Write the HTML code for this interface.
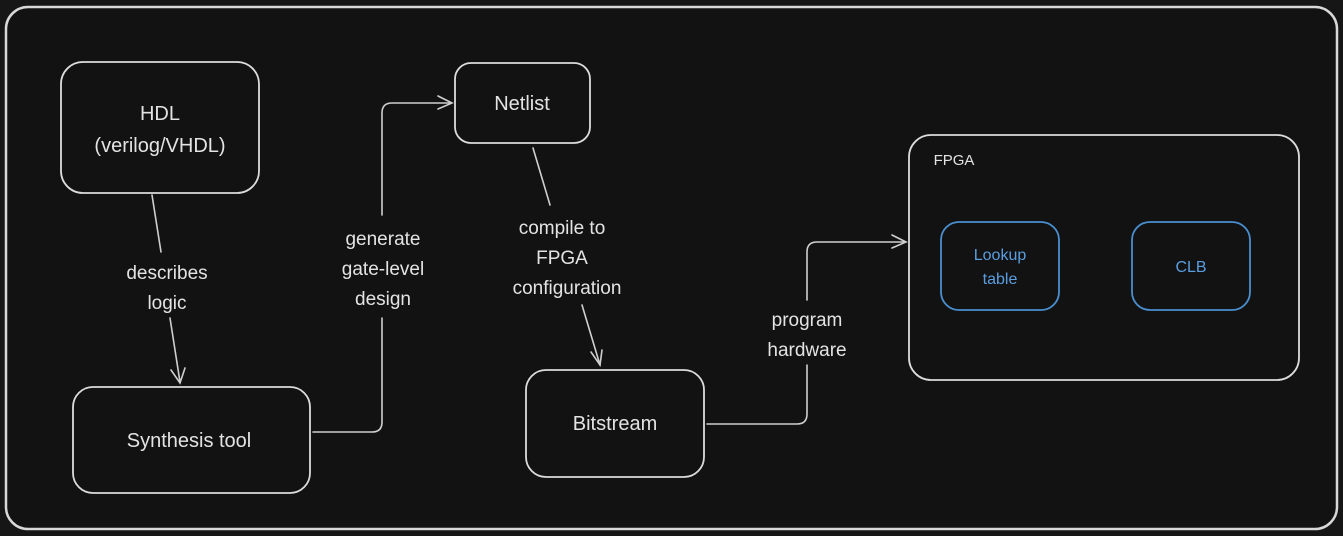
<!DOCTYPE html>
<html><head><style>
html,body{margin:0;padding:0;background:#161616;}
svg{display:block}
text{font-family:"Liberation Sans",sans-serif;fill:#e3e3e3;text-anchor:middle;}
</style></head><body>
<svg width="1343" height="536" viewBox="0 0 1343 536" xmlns="http://www.w3.org/2000/svg">
<rect x="0" y="0" width="1343" height="536" fill="#161616"/>
<rect x="6" y="7" width="1331" height="522" rx="22" fill="#121212" stroke="#d8d8d8" stroke-width="2.5"/>
<g fill="none" stroke="#dcdcdc" stroke-width="1.8">
<rect x="61" y="62" width="198" height="131" rx="22"/>
<rect x="73" y="387" width="237" height="106" rx="20"/>
<rect x="455" y="63" width="135" height="80" rx="16"/>
<rect x="526" y="370" width="178" height="107" rx="20"/>
<rect x="909" y="135" width="390" height="245" rx="22"/>
</g>
<g fill="none" stroke="#4a8fd0" stroke-width="1.8">
<rect x="941" y="222" width="118" height="88" rx="18"/>
<rect x="1132" y="222" width="118" height="88" rx="18"/>
</g>
<g fill="none" stroke="#cfcfcf" stroke-width="1.6" stroke-linecap="round">
<path d="M152 195 L161 252"/><path d="M170 318 L180 382"/>
<path d="M171 370 L180 383 L185 368"/>
<path d="M313 432 L372 432 Q382 432 382 422 L382 318"/><path d="M382 215 L382 113 Q382 103 392 103 L451 103"/>
<path d="M438 96 L452 103 L438 109"/>
<path d="M533 148 L550 205"/><path d="M582 305 L600 365"/>
<path d="M591 352 L600 365 L602 350"/>
<path d="M707 424 L797 424 Q807 424 807 414 L807 365"/><path d="M807 300 L807 252 Q807 242 817 242 L906 242"/>
<path d="M892 235 L906 242 L892 248"/>
</g>
<g font-size="20">
<text x="160" y="120">HDL</text>
<text x="160" y="152">(verilog/VHDL)</text>
<text x="189" y="447">Synthesis tool</text>
<text x="522" y="110">Netlist</text>
<text x="615" y="430">Bitstream</text>
</g>
<g font-size="19">
<text x="167" y="279">describes</text>
<text x="167" y="309">logic</text>
<text x="383" y="245">generate</text>
<text x="383" y="275">gate-level</text>
<text x="383" y="305">design</text>
<text x="562" y="234">compile to</text>
<text x="562" y="264">FPGA</text>
<text x="567" y="294">configuration</text>
<text x="807" y="326">program</text>
<text x="807" y="356">hardware</text>
</g>
<text x="954" y="165" font-size="15">FPGA</text>
<g font-size="16" style="fill:#5a9ee0">
<text x="1000" y="260" style="fill:#5a9ee0">Lookup</text>
<text x="1000" y="284" style="fill:#5a9ee0">table</text>
<text x="1191" y="272" style="fill:#5a9ee0">CLB</text>
</g>
</svg>
</body></html>
